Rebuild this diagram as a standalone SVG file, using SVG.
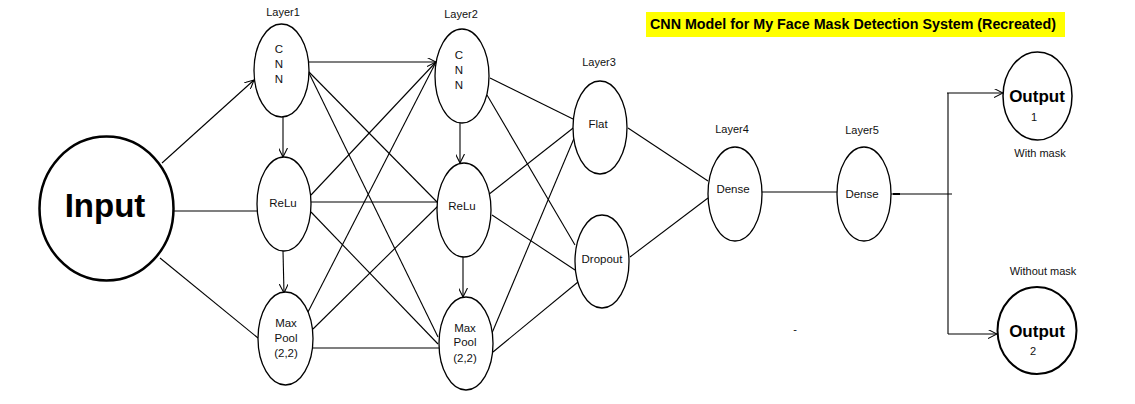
<svg xmlns="http://www.w3.org/2000/svg" width="1135" height="404" viewBox="0 0 1135 404">
<defs>
<marker id="arr" viewBox="0 0 10 10" refX="10" refY="5" markerWidth="9" markerHeight="9" markerUnits="userSpaceOnUse" orient="auto">
<path d="M0,0 L10,5 L0,10" fill="none" stroke="#000" stroke-width="1.2"/>
</marker>
</defs>
<style>
.n{fill:#fff;stroke:#000;stroke-width:1.3}
.t{font-family:"Liberation Sans",Arial,sans-serif;font-size:11.5px;fill:#111;text-anchor:middle}
.l{font-family:"Liberation Sans",Arial,sans-serif;font-size:11px;fill:#111;text-anchor:middle}
.b{font-family:"Liberation Sans",Arial,sans-serif;font-weight:bold;fill:#000;text-anchor:middle}
.c line,.c polyline{stroke:#000;stroke-width:1.1;fill:none}
.a{marker-end:url(#arr)}
</style>
<rect width="1135" height="404" fill="#fff"/>
<g id="title">
<rect x="646" y="12" width="419" height="25" fill="#ffff00"/>
<text x="650" y="29" class="b" style="text-anchor:start;font-size:14px" textLength="406" lengthAdjust="spacingAndGlyphs">CNN Model for My Face Mask Detection System (Recreated)</text>
</g>
<g id="labels">
<text x="283" y="16" class="l">Layer1</text>
<text x="461" y="18" class="l">Layer2</text>
<text x="599" y="66" class="l">Layer3</text>
<text x="732" y="133" class="l">Layer4</text>
<text x="862" y="134" class="l">Layer5</text>
<text x="1040" y="157" class="l">With mask</text>
<text x="1043" y="275" class="l">Without mask</text>
<text x="795" y="333" class="l">-</text>
</g>
<g class="c" id="connectors">
<line x1="162" y1="163" x2="254" y2="80" class="a"/>
<line x1="174" y1="211" x2="257" y2="211"/>
<line x1="160" y1="258" x2="258" y2="338"/>
<line x1="283" y1="117" x2="283" y2="157" class="a"/>
<line x1="283" y1="251" x2="284" y2="293" class="a"/>
<line x1="460" y1="123" x2="460" y2="163" class="a"/>
<line x1="463" y1="257" x2="463" y2="297" class="a"/>
<line x1="308" y1="62" x2="436" y2="62" class="a"/>
<line x1="308" y1="71" x2="437" y2="202"/>
<line x1="308" y1="71" x2="438" y2="337"/>
<line x1="311" y1="202" x2="437" y2="202"/>
<line x1="311" y1="195" x2="436" y2="62"/>
<line x1="311" y1="212" x2="438" y2="344"/>
<line x1="308" y1="312" x2="436" y2="62"/>
<line x1="313" y1="329" x2="438" y2="206"/>
<line x1="313" y1="348" x2="439" y2="348"/>
<line x1="490" y1="78" x2="573" y2="119"/>
<line x1="487" y1="95" x2="575" y2="245"/>
<line x1="488" y1="195" x2="577" y2="125"/>
<line x1="492" y1="333" x2="575" y2="136"/>
<line x1="492" y1="215" x2="575" y2="270"/>
<line x1="493" y1="352" x2="578" y2="282"/>
<line x1="628" y1="128" x2="708" y2="181"/>
<line x1="630" y1="257" x2="708" y2="198"/>
<line x1="762" y1="192" x2="837" y2="192"/>
<line x1="891" y1="194" x2="952" y2="194"/>
<line x1="893" y1="194" x2="900" y2="194" style="stroke-width:2"/>
<polyline points="948,194 948,93"/>
<polyline points="948,194 948,334"/>
<line x1="947" y1="93" x2="1003" y2="93" class="a"/>
<line x1="948" y1="334" x2="997" y2="334" class="a"/>
</g>
<g id="input">
<ellipse cx="106.5" cy="208.5" rx="67" ry="72" fill="#fff" stroke="#000" stroke-width="2.5"/>
<text x="105" y="217" class="b" style="font-size:33px">Input</text>
</g>
<g id="cnn1">
<ellipse cx="281.5" cy="70.5" rx="27.5" ry="46.5" class="n"/>
<text x="279" y="53" class="t">C</text><text x="279" y="68" class="t">N</text><text x="279" y="83" class="t">N</text>
</g>
<g id="relu1">
<ellipse cx="284" cy="204" rx="27" ry="47" class="n"/>
<text x="283" y="207" class="t">ReLu</text>
</g>
<g id="maxpool1">
<ellipse cx="285.5" cy="338.5" rx="27.5" ry="46.5" class="n"/>
<text x="286" y="327" class="t">Max</text><text x="286" y="342" class="t">Pool</text><text x="286" y="357" class="t">(2,2)</text>
</g>
<g id="cnn2">
<ellipse cx="462" cy="76" rx="27" ry="47" class="n"/>
<text x="459" y="59" class="t">C</text><text x="459" y="74" class="t">N</text><text x="459" y="89" class="t">N</text>
</g>
<g id="relu2">
<ellipse cx="464" cy="210" rx="27" ry="47" class="n"/>
<text x="462" y="210" class="t">ReLu</text>
</g>
<g id="maxpool2">
<ellipse cx="466" cy="343.5" rx="27" ry="46.5" class="n"/>
<text x="465" y="332" class="t">Max</text><text x="465" y="346" class="t">Pool</text><text x="465" y="362" class="t">(2,2)</text>
</g>
<g id="flat">
<ellipse cx="600" cy="127.5" rx="27" ry="46.5" class="n"/>
<text x="598" y="128" class="t">Flat</text>
</g>
<g id="dropout">
<ellipse cx="602" cy="261.5" rx="27" ry="46.5" class="n"/>
<text x="602" y="263" class="t">Dropout</text>
</g>
<g id="dense4">
<ellipse cx="735" cy="194" rx="27" ry="47" class="n"/>
<text x="733" y="193" class="t">Dense</text>
</g>
<g id="dense5">
<ellipse cx="864" cy="194" rx="27" ry="47" class="n"/>
<text x="862" y="198" class="t">Dense</text>
</g>
<g id="output1">
<ellipse cx="1037.5" cy="96" rx="34.5" ry="44" fill="#fff" stroke="#000" stroke-width="1.5"/>
<text x="1037" y="102" class="b" style="font-size:17px">Output</text>
<text x="1034" y="121" class="l">1</text>
</g>
<g id="output2">
<ellipse cx="1037" cy="330.5" rx="39.5" ry="43.5" fill="#fff" stroke="#000" stroke-width="2"/>
<text x="1037" y="337" class="b" style="font-size:17px">Output</text>
<text x="1033" y="355" class="l">2</text>
</g>
</svg>
